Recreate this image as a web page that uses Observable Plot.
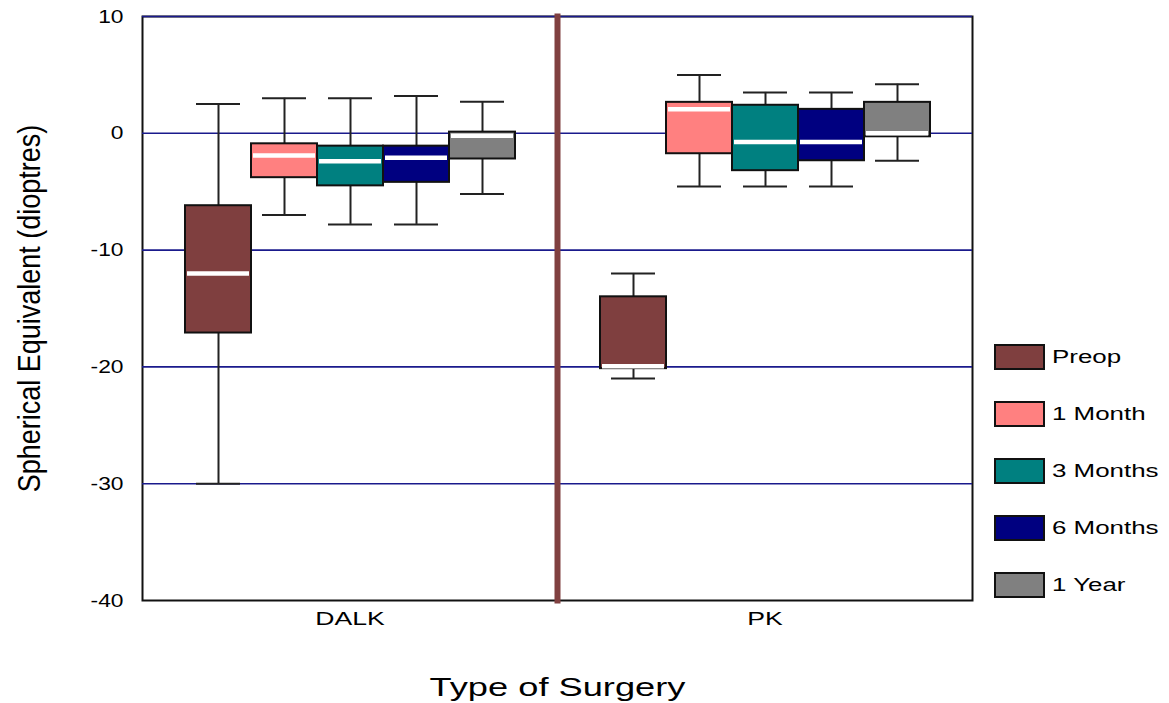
<!DOCTYPE html>
<html>
<head>
<meta charset="utf-8">
<script src="https://cdn.jsdelivr.net/npm/d3@7"></script>
<script src="https://cdn.jsdelivr.net/npm/@observablehq/plot@0.6"></script>
<style>
  html, body { margin: 0; padding: 0; background: #fff; }
  #wrap { position: relative; width: 1169px; height: 703px; font-family: "Liberation Sans", Arial, sans-serif; }
  .leg { position: absolute; display: flex; align-items: center; font-size: 17.5px; color: #000; }
  .sw { width: 47px; height: 22px; border: 2px solid #111; margin-right: 7px; }
  .leg span { display: inline-block; transform: scaleX(1.48); transform-origin: left center; }
</style>
</head>
<body>
<div id="wrap"></div>
<script>
const surgeries = ["DALK", "PK"];
const timepoints = ["Preop", "1 Month", "3 Months", "6 Months", "1 Year"];
const colors = ["#7f3f3f", "#ff8080", "#008080", "#000080", "#808080"];
const yTicks = [-40, -30, -20, -10, 0, 10];
const gridLines = [-30, -20, -10, 0, 10];

// per surgery, values in timepoint order
const dalkLow    = [-30.0, -7.0, -7.8, -7.8, -5.2];
const dalkQ1     = [-17.1, -3.8, -4.5, -4.2, -2.2];
const dalkMedian = [-12.0, -1.9, -2.4, -2.1, -0.2];
const dalkQ3     = [-6.2, -0.9, -1.1, -1.1, 0.1];
const dalkHigh   = [2.5, 3.0, 3.0, 3.2, 2.7];

const pkLow    = [-21.0, -4.55, -4.55, -4.55, -2.35];
const pkQ1     = [-20.15, -1.75, -3.2, -2.35, -0.3];
const pkMedian = [-19.95, 2.05, -0.75, -0.75, 0.0];
const pkQ3     = [-14.0, 2.65, 2.4, 2.05, 2.65];
const pkHigh   = [-12.0, 5.0, 3.5, 3.5, 4.2];

const series = {
  DALK: [dalkLow, dalkQ1, dalkMedian, dalkQ3, dalkHigh],
  PK: [pkLow, pkQ1, pkMedian, pkQ3, pkHigh]
};
const rows = [];
for (const s of surgeries) {
  const [lo, q1, md, q3, hi] = series[s];
  timepoints.forEach((t, i) => rows.push({surgery: s, time: t, low: lo[i], q1: q1[i], median: md[i], q3: q3[i], high: hi[i]}));
}

const font = "Liberation Sans, Arial, sans-serif";
const chart = Plot.plot({
  width: 1169,
  height: 703,
  marginLeft: 142,
  marginRight: 197,
  marginTop: 16,
  marginBottom: 103,
  style: {fontFamily: font, fontSize: "17px", color: "#000", background: "#fff"},
  y: {domain: [-40, 10]},
  x: {domain: timepoints, paddingInner: 0, paddingOuter: 0.6, axis: null},
  fx: {domain: surgeries, padding: 0},
  color: {domain: timepoints, range: colors},
  marks: [
    Plot.frame({stroke: "#111", strokeWidth: 2}),
    Plot.ruleY(gridLines, {stroke: "#1a1a8c", strokeWidth: 1.6}),
    Plot.ruleX(rows, {fx: "surgery", x: "time", y1: "low", y2: "high", stroke: "#222", strokeWidth: 2}),
    Plot.tickY(rows, {fx: "surgery", x: "time", y: "high", stroke: "#222", strokeWidth: 2, insetLeft: 11, insetRight: 11}),
    Plot.tickY(rows, {fx: "surgery", x: "time", y: "low", stroke: "#222", strokeWidth: 2, insetLeft: 11, insetRight: 11}),
    Plot.barY(rows, {fx: "surgery", x: "time", y1: "q1", y2: "q3", fill: "time", stroke: "#111", strokeWidth: 2}),
    Plot.tickY(rows, {fx: "surgery", x: "time", y: "median", stroke: "#fff", strokeWidth: 4.5, insetLeft: 2, insetRight: 2}),
    Plot.frame({anchor: "left", fx: "PK", stroke: "#804040", strokeWidth: 6}),
    Plot.axisY({ticks: yTicks, tickFormat: d => String(d), tickSize: 0, tickPadding: 19, fontSize: 19, label: "Spherical Equivalent (dioptres)", labelAnchor: "center", labelArrow: "none", labelOffset: 125}),
    Plot.axisFx({anchor: "bottom", tickSize: 0, tickPadding: 11, fontSize: 19, label: "Type of Surgery", labelAnchor: "center", labelArrow: "none", labelOffset: 95})
  ]
});

function stretch(sel, sx, sy) {
  chart.querySelectorAll(sel).forEach(t => {
    const tr = t.getAttribute("transform") || "";
    t.setAttribute("transform", tr + ` scale(${sx},${sy})`);
  });
}
chart.querySelectorAll("g[aria-label='y-axis label'] text").forEach(t => t.setAttribute("font-size", "27"));
chart.querySelectorAll("g[aria-label='fx-axis label'] text").forEach(t => t.setAttribute("font-size", "25"));
stretch("g[aria-label='y-axis tick label'] text", 1.2, 1);
stretch("g[aria-label='fx-axis tick label'] text", 1.4, 1);
stretch("g[aria-label='fx-axis label'] text", 1.45, 1);
stretch("g[aria-label='y-axis label'] text", 1, 1.15);

const wrap = document.getElementById("wrap");
wrap.appendChild(chart);

timepoints.forEach((t, i) => {
  const d = document.createElement("div");
  d.className = "leg";
  d.style.left = "994px";
  d.style.top = (344 + i * 57) + "px";
  const sw = document.createElement("div");
  sw.className = "sw";
  sw.style.background = colors[i];
  const lab = document.createElement("span");
  lab.textContent = t;
  d.appendChild(sw);
  d.appendChild(lab);
  wrap.appendChild(d);
});
</script>
</body>
</html>
